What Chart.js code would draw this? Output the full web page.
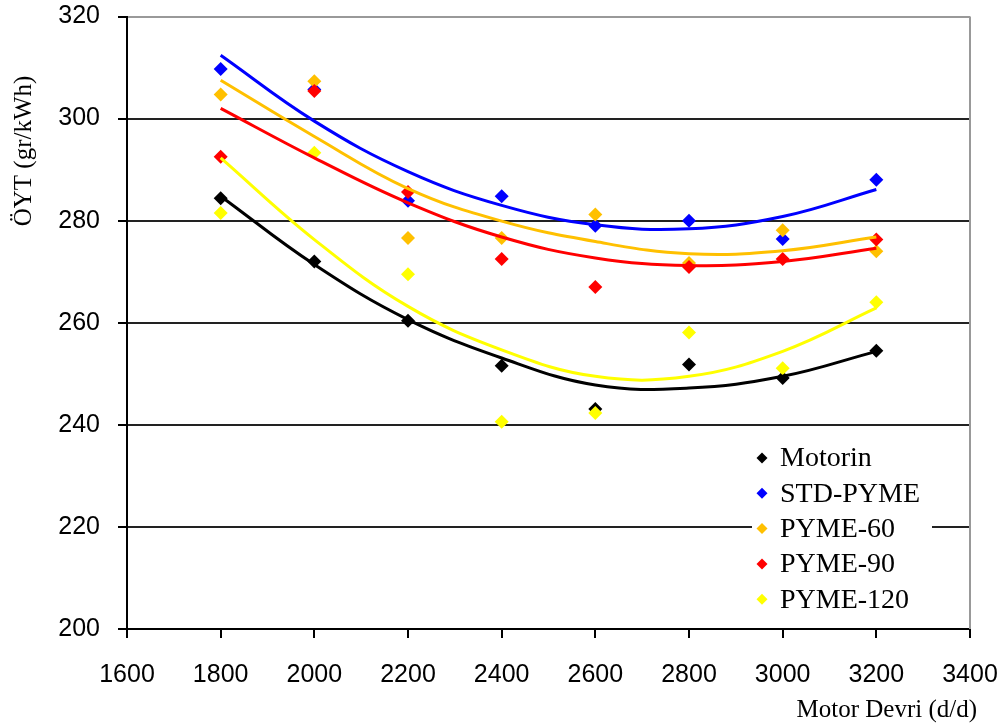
<!DOCTYPE html>
<html>
<head>
<meta charset="utf-8">
<script src="https://cdn.jsdelivr.net/npm/chart.js@4/dist/chart.umd.min.js"></script>
<style>
  html, body { margin: 0; padding: 0; background: #fff; }
  #wrap { width: 1003px; height: 725px; position: relative; }
</style>
</head>
<body>
<div id="wrap"><canvas id="c" width="1003" height="725"></canvas></div>
<script>
// ---- data ----
const rpm = [1800, 2000, 2200, 2400, 2600, 2800, 3000, 3200];
const seriesNames = ["Motorin", "STD-PYME", "PYME-60", "PYME-90", "PYME-120"];
const seriesColors = ["#000000", "#0000FF", "#FFC000", "#FF0000", "#FFFF00"];

const motorin  = [284.4, 272.0, 260.4, 251.6, 243.1, 251.8, 249.2, 254.5];
const stdPyme  = [309.7, 305.7, 283.9, 284.8, 279.0, 280.0, 276.4, 288.0];
const pyme60   = [304.7, 307.3, 276.6, 276.6, 281.2, 271.7, 278.1, 274.0];
const pyme90   = [292.5, 305.4, 285.6, 272.5, 267.0, 270.9, 272.5, 276.3];
const pyme120  = [281.5, 293.3, 269.5, 240.6, 242.3, 258.1, 251.1, 264.0];

// trend curves at each speed
const trendMotorin = [284.8, 271.4, 260.6, 253.1, 247.8, 247.2, 249.5, 254.4];
const trendStd     = [312.4, 299.5, 289.6, 283.0, 279.2, 278.4, 280.8, 286.1];
const trend60      = [307.5, 296.5, 286.3, 279.9, 275.9, 273.5, 274.1, 276.8];
const trend90      = [302.0, 292.3, 283.5, 276.8, 272.7, 271.2, 272.0, 274.6];
const trend120     = [292.3, 276.3, 263.2, 254.7, 249.5, 249.5, 254.4, 262.9];

const xTicks = [1600, 1800, 2000, 2200, 2400, 2600, 2800, 3000, 3200, 3400];
const yTicks = [200, 220, 240, 260, 280, 300, 320];
const xTitle = "Motor Devri (d/d)";
const yTitle = "ÖYT (gr/kWh)";

const pointSeries = [motorin, stdPyme, pyme60, pyme90, pyme120];
const trendSeries = [trendMotorin, trendStd, trend60, trend90, trend120];

const toXY = arr => arr.map((v, i) => ({ x: rpm[i], y: v }));

const datasets = [];
pointSeries.forEach((arr, i) => {
  datasets.push({
    type: 'scatter',
    label: seriesNames[i],
    data: toXY(arr),
    showLine: false,
    pointStyle: 'rectRot',
    pointRadius: 7,
    pointHoverRadius: 7,
    pointBackgroundColor: seriesColors[i],
    pointBorderColor: seriesColors[i],
    pointBorderWidth: 0,
    order: 20 - i,
    isLegend: true
  });
});
trendSeries.forEach((arr, i) => {
  datasets.push({
    type: 'line',
    label: seriesNames[i] + ' trend',
    data: toXY(arr),
    borderColor: seriesColors[i],
    borderWidth: 3,
    pointRadius: 0,
    tension: 0.4,
    fill: false,
    order: 10 - i
  });
});

const extras = {
  id: 'extras',
  afterDraw(chart) {
    const ctx = chart.ctx;
    const a = chart.chartArea;
    ctx.save();
    // right border of plot area
    ctx.strokeStyle = '#999999';
    ctx.lineWidth = 2;
    ctx.beginPath();
    ctx.moveTo(a.right, a.top);
    ctx.lineTo(a.right, a.bottom);
    ctx.stroke();

    // legend
    const lx = 752, ly = 440, lw = 180, lh = 176;
    ctx.fillStyle = '#ffffff';
    ctx.fillRect(lx, ly, lw, lh);
    ctx.font = '28px "Liberation Serif", "Times New Roman", serif';
    ctx.textBaseline = 'middle';
    ctx.textAlign = 'left';
    const items = chart.data.datasets.filter(d => d.isLegend);
    items.forEach((d, i) => {
      const cy = 458 + i * 35.3;
      const cx = 762;
      ctx.fillStyle = d.pointBackgroundColor;
      ctx.beginPath();
      ctx.moveTo(cx, cy - 5.5);
      ctx.lineTo(cx + 5.5, cy);
      ctx.lineTo(cx, cy + 5.5);
      ctx.lineTo(cx - 5.5, cy);
      ctx.closePath();
      ctx.fill();
      ctx.fillStyle = '#000000';
      ctx.fillText(d.label, 780, cy + 1);
    });

    // axis titles
    ctx.fillStyle = '#000000';
    ctx.font = '25px "Liberation Serif", "Times New Roman", serif';
    ctx.textAlign = 'right';
    ctx.textBaseline = 'middle';
    ctx.fillText(xTitle, 977, 710);
    ctx.save();
    ctx.translate(24, 151);
    ctx.rotate(-Math.PI / 2);
    ctx.textAlign = 'center';
    ctx.fillText(yTitle, 0, 0);
    ctx.restore();
    ctx.restore();
  }
};

const tickFont = { family: '"Liberation Sans", Arial, sans-serif', size: 25 };

new Chart(document.getElementById('c'), {
  data: { datasets },
  options: {
    responsive: false,
    animation: false,
    devicePixelRatio: 1,
    layout: { padding: { left: 0, right: 33, top: 16.5, bottom: 0 } },
    plugins: { legend: { display: false }, tooltip: { enabled: false } },
    scales: {
      x: {
        type: 'linear',
        min: xTicks[0],
        max: xTicks[xTicks.length - 1],
        afterBuildTicks: s => { s.ticks = xTicks.map(v => ({ value: v })); },
        afterFit: s => { s.height = 96; s.paddingLeft = 0; s.paddingRight = 0; },
        ticks: { font: tickFont, color: '#000', padding: 22, maxRotation: 0, callback: v => String(v) },
        grid: { drawOnChartArea: false, drawTicks: true, tickLength: 9, color: '#000', lineWidth: 2 },
        border: { display: true, color: '#000', width: 2 }
      },
      y: {
        type: 'linear',
        min: yTicks[0],
        max: yTicks[yTicks.length - 1],
        afterBuildTicks: s => { s.ticks = yTicks.map(v => ({ value: v })); },
        afterFit: s => { s.width = 127; s.paddingTop = 0; s.paddingBottom = 0; },
        ticks: { font: tickFont, color: '#000', padding: 18, callback: v => String(v) },
        grid: {
          drawTicks: true,
          tickLength: 9,
          color: c => (c.tick && c.tick.value === 320) ? '#999999' : '#222222',
          tickColor: '#000',
          lineWidth: 2
        },
        border: { display: true, color: '#000', width: 2 }
      }
    }
  },
  plugins: [extras]
});
</script>
</body>
</html>
